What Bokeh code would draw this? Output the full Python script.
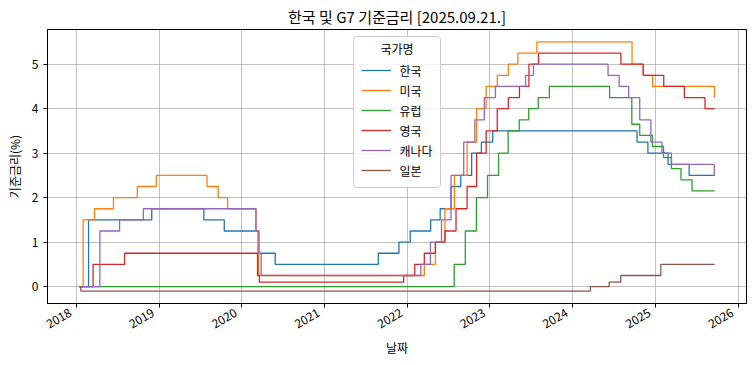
import math
import pandas as pd
from bokeh.plotting import figure
from bokeh.models import (ColumnDataSource, Range1d, FixedTicker, CustomJSTickFormatter,
                          DatetimeTickFormatter, DatetimeAxis, Legend, LegendItem, Label,
                          BoxAnnotation)
from bokeh.embed import file_html
from bokeh.resources import INLINE

FONT = "Noto Sans CJK KR"

# ---------------- data (policy rate change points, %) ----------------
countries = ["한국", "미국", "유럽", "영국", "캐나다", "일본"]
colors = ["#1f77b4", "#ff7f0e", "#2ca02c", "#d62728", "#9467bd", "#8c564b"]

kr_dates = ["2018-01-14", "2018-02-24", "2018-11-30", "2019-07-18", "2019-10-16", "2020-03-17",
            "2020-05-28", "2021-08-26", "2021-11-25", "2022-01-14", "2022-04-14", "2022-05-26",
            "2022-07-13", "2022-08-25", "2022-10-12", "2022-11-24", "2023-01-13", "2024-10-11",
            "2024-11-28", "2025-02-25", "2025-05-29", "2025-09-19"]
kr_rates = [0, 1.5, 1.75, 1.5, 1.25, 0.75, 0.5, 0.75, 1.0, 1.25, 1.5, 1.75, 2.25, 2.5, 3.0,
            3.25, 3.5, 3.25, 3.0, 2.75, 2.5, 2.5]

us_dates = ["2018-01-14", "2018-01-31", "2018-03-22", "2018-06-14", "2018-09-27", "2018-12-20",
            "2019-08-01", "2019-09-19", "2019-10-31", "2020-03-04", "2020-03-16", "2022-03-17",
            "2022-05-05", "2022-06-16", "2022-07-28", "2022-09-22", "2022-11-03", "2022-12-15",
            "2023-02-02", "2023-03-23", "2023-05-04", "2023-07-27", "2024-09-19", "2024-11-08",
            "2024-12-19", "2025-09-18", "2025-09-19"]
us_rates = [0, 1.5, 1.75, 2.0, 2.25, 2.5, 2.25, 2.0, 1.75, 1.25, 0.25, 0.5, 1.0, 1.75, 2.5,
            3.25, 4.0, 4.5, 4.75, 5.0, 5.25, 5.5, 5.0, 4.75, 4.5, 4.25, 4.25]

eu_dates = ["2018-01-14", "2022-07-27", "2022-09-14", "2022-11-02", "2022-12-21", "2023-02-08",
            "2023-03-22", "2023-05-10", "2023-06-21", "2023-08-02", "2023-09-20", "2024-06-12",
            "2024-09-18", "2024-10-23", "2024-12-18", "2025-02-05", "2025-03-12", "2025-04-23",
            "2025-06-11", "2025-09-19"]
eu_rates = [0, 0.5, 1.25, 2.0, 2.5, 3.0, 3.5, 3.75, 4.0, 4.25, 4.5, 4.25, 3.65, 3.4, 3.15,
            2.9, 2.65, 2.4, 2.15, 2.15]

uk_dates = ["2018-01-14", "2018-03-16", "2018-08-02", "2020-03-11", "2020-03-19", "2021-12-16",
            "2022-02-03", "2022-03-17", "2022-05-05", "2022-06-16", "2022-08-04", "2022-09-22",
            "2022-11-03", "2022-12-15", "2023-02-02", "2023-03-23", "2023-05-11", "2023-06-22",
            "2023-08-03", "2024-08-01", "2024-11-07", "2025-02-06", "2025-05-08", "2025-08-07",
            "2025-09-19"]
uk_rates = [0, 0.5, 0.75, 0.25, 0.1, 0.25, 0.5, 0.75, 1.0, 1.25, 1.75, 2.25, 3.0, 3.5, 4.0,
            4.25, 4.5, 5.0, 5.25, 5.0, 4.75, 4.5, 4.25, 4.0, 4.0]

ca_dates = ["2018-01-14", "2018-04-15", "2018-07-11", "2018-10-24", "2020-03-04", "2020-03-13",
            "2020-03-27", "2022-03-02", "2022-04-13", "2022-06-01", "2022-07-13", "2022-09-07",
            "2022-10-26", "2022-12-07", "2023-01-25", "2023-06-07", "2023-07-12", "2024-06-05",
            "2024-07-24", "2024-09-04", "2024-10-23", "2024-12-11", "2025-01-29", "2025-03-12",
            "2025-09-17", "2025-09-19"]
ca_rates = [0, 1.25, 1.5, 1.75, 1.25, 0.75, 0.25, 0.5, 1.0, 1.5, 2.5, 3.25, 3.75, 4.25, 4.5,
            4.75, 5.0, 4.75, 4.5, 4.25, 3.75, 3.25, 3.0, 2.75, 2.5, 2.5]

jp_dates = ["2018-01-14", "2018-01-21", "2024-03-19", "2024-06-10", "2024-07-31", "2025-01-24",
            "2025-09-19"]
jp_rates = [0, -0.1, 0.0, 0.1, 0.25, 0.5, 0.5]

year_ticks = [2018, 2019, 2020, 2021, 2022, 2023, 2024, 2025, 2026]
rate_ticks = [0, 1, 2, 3, 4, 5]

title_text = "한국 및 G7 기준금리 [2025.09.21.]"
x_label = "날짜"
y_label = "기준금리(%)"
legend_title = "국가명"

series = [(kr_dates, kr_rates), (us_dates, us_rates), (eu_dates, eu_rates),
          (uk_dates, uk_rates), (ca_dates, ca_rates), (jp_dates, jp_rates)]

# ---------------- ranges with 5% margins (like matplotlib) ----------------
all_dates = pd.to_datetime([d for ds, _ in series for d in ds])
all_rates = [r for _, rs in series for r in rs]
dmin, dmax = all_dates.min(), all_dates.max()
dpad = (dmax - dmin) * 0.05
rmin, rmax = min(all_rates), max(all_rates)
rpad = (rmax - rmin) * 0.05
x_lo, x_hi = dmin - dpad, dmax + dpad

W, H = 754, 365
BL, BR, BT, BB = 47, 8, 29, 62
FRAME_W = W - BL - BR
FRAME_H = H - BT - BB

p = figure(width=W, height=H, x_axis_type="datetime",
           output_backend="svg", toolbar_location=None,
           x_range=Range1d(x_lo, x_hi),
           y_range=Range1d(rmin - rpad, rmax + rpad),
           min_border_left=BL, min_border_right=BR, min_border_top=BT, min_border_bottom=BB)

p.background_fill_color = "white"
p.border_fill_color = "white"
p.outline_line_color = "black"
p.outline_line_width = 1
p.outline_line_alpha = 1

p.title.text = title_text
p.title.align = "center"
p.title.text_font = FONT
p.title.text_font_size = "15px"
p.title.text_font_style = "normal"
p.title.text_color = "black"
p.title.standoff = 5

# primary axes: ticks (x labels come from the label axis below)
year_ms = [pd.Timestamp(f"{y}-01-01").timestamp() * 1000 for y in year_ticks]
p.xaxis.ticker = FixedTicker(ticks=year_ms)
p.xaxis.formatter = CustomJSTickFormatter(code="return ''")
p.yaxis.ticker = FixedTicker(ticks=rate_ticks)
p.yaxis.axis_label = y_label

for ax in (p.xaxis[0], p.yaxis[0]):
    ax.major_label_text_font = FONT
    ax.major_label_text_font_size = "12px"
    ax.major_label_text_color = "black"
    ax.axis_label_text_font = FONT
    ax.axis_label_text_font_size = "12px"
    ax.axis_label_text_font_style = "normal"
    ax.axis_label_text_color = "black"
    ax.minor_tick_line_color = None
    ax.major_tick_in = 0
    ax.major_tick_out = 4
    ax.major_tick_line_color = "black"
    ax.axis_line_color = "black"
p.yaxis.major_label_standoff = 5
p.yaxis.axis_label_standoff = 6

# label axis: rotated year labels, shifted left so each label ends at its tick
# (matplotlib autofmt_xdate: rotation 30, ha="right")
label_dx_px = 6
shift = (x_hi - x_lo) * (label_dx_px / FRAME_W)
p.extra_x_ranges = {"labels": Range1d(x_lo + shift, x_hi + shift)}
fmt = "%Y"
lab_axis = DatetimeAxis(x_range_name="labels", ticker=FixedTicker(ticks=year_ms),
                        formatter=DatetimeTickFormatter(milliseconds=fmt, seconds=fmt, minsec=fmt,
                                                        minutes=fmt, hourmin=fmt, hours=fmt,
                                                        days=fmt, months=fmt, years=fmt))
lab_axis.axis_line_color = None
lab_axis.major_tick_line_color = None
lab_axis.minor_tick_line_color = None
lab_axis.major_tick_in = 0
lab_axis.major_tick_out = 0
lab_axis.major_label_orientation = math.pi / 6
lab_axis.major_label_standoff = 4
lab_axis.major_label_text_font = FONT
lab_axis.major_label_text_font_size = "12px"
lab_axis.major_label_text_color = "black"
lab_axis.axis_label = x_label
lab_axis.axis_label_text_font = FONT
lab_axis.axis_label_text_font_size = "12px"
lab_axis.axis_label_text_font_style = "normal"
lab_axis.axis_label_text_color = "black"
lab_axis.axis_label_standoff = 3
p.add_layout(lab_axis, "below")

for g in (p.xgrid[0], p.ygrid[0]):
    g.grid_line_color = "#b0b0b0"
    g.grid_line_width = 0.8
    g.grid_line_alpha = 1

# lines
items = []
for name, color, (ds, rs) in zip(countries, colors, series):
    src = ColumnDataSource(data=dict(date=pd.to_datetime(ds), rate=rs))
    r = p.step(x="date", y="rate", source=src, mode="after", line_color=color, line_width=1.3)
    items.append(LegendItem(label=name, renderers=[r]))

# legend frame (semi-transparent white, light grey rounded border) drawn as a box,
# so that the centred legend title sits above it
LEG_W, LEG_H, LEG_MARGIN = 87, 151, 7
legend_box = BoxAnnotation(left=FRAME_W / 2 - LEG_W / 2, right=FRAME_W / 2 + LEG_W / 2,
                           top=FRAME_H - LEG_MARGIN, bottom=FRAME_H - LEG_MARGIN - LEG_H,
                           left_units="screen", right_units="screen",
                           top_units="screen", bottom_units="screen",
                           fill_color="white", fill_alpha=0.8,
                           line_color="#cccccc", line_alpha=1, line_width=1,
                           border_radius=3)
p.add_layout(legend_box)

title_lbl = Label(x=x_lo + (x_hi - x_lo) / 2, y=FRAME_H - 19, x_units="data", y_units="screen",
                  text=legend_title, text_align="center", text_baseline="middle",
                  text_font=FONT, text_font_size="12px", text_color="black")
p.add_layout(title_lbl)

legend = Legend(items=items, location="top_center", title=" ")
legend.title_text_font = FONT
legend.title_text_font_size = "12px"
legend.title_text_font_style = "normal"
legend.title_standoff = 7
legend.label_text_font = FONT
legend.label_text_font_size = "12px"
legend.label_text_color = "black"
legend.border_line_color = None
legend.background_fill_color = None
legend.background_fill_alpha = 0
legend.padding = 3
legend.margin = LEG_MARGIN
legend.spacing = 0
legend.label_height = 20
legend.glyph_height = 20
legend.glyph_width = 30
legend.label_standoff = 9
p.add_layout(legend)

open("out.html", "w").write(file_html(p, INLINE))
